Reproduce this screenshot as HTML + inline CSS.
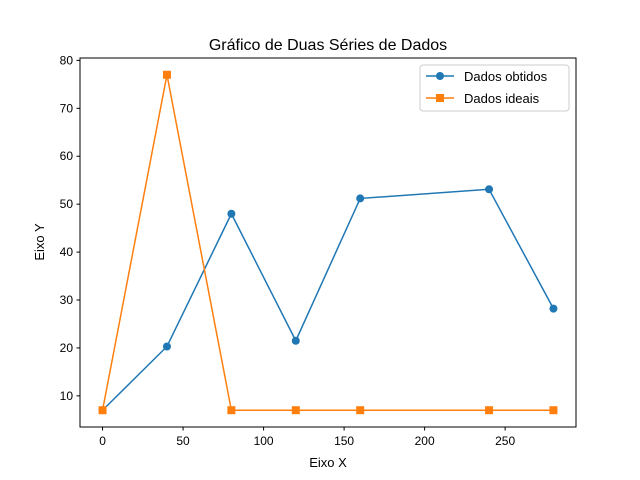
<!DOCTYPE html>
<html><head><meta charset="utf-8"><style>
body{margin:0;background:#fff;}
svg{display:block;font-family:"Liberation Sans","DejaVu Sans",sans-serif;}
</style></head><body>
<svg id="chart" width="640" height="480">
<rect width="640" height="480" fill="#fff"/>
<text x="328" y="50" text-anchor="middle" font-size="16">Gráfico de Duas Séries de Dados</text>
<g id="axes"></g>
<g id="series"></g>
<rect x="80" y="58" width="496" height="369" fill="none" stroke="#000" stroke-width="1"/>
<text x="328" y="467" text-anchor="middle" font-size="13">Eixo X</text>
<text transform="translate(44,242) rotate(-90)" text-anchor="middle" font-size="13">Eixo Y</text>
<g>
<rect x="420" y="65" width="149" height="46" rx="3" fill="#fff" stroke="#ccc"/>
<g>
<line x1="426" y1="76" x2="454" y2="76" stroke="#1f77b4" stroke-width="1.5"/>
<circle cx="440" cy="76" r="4" fill="#1f77b4"/>
<text x="464" y="81" font-size="13">Dados obtidos</text></g>
<g>
<line x1="426" y1="98" x2="454" y2="98" stroke="#ff7f0e" stroke-width="1.5"/>
<rect x="436" y="94" width="8" height="8" fill="#ff7f0e"/>
<text x="464" y="103" font-size="13">Dados ideais</text></g>
</g>
</svg>
<script>
const xValues=[0,40,80,120,160,240,280];
const obtidos=[7,20.3,48,21.5,51.2,53.1,28.2];
const ideais=[7,77,7,7,7,7,7];
const xTicks=[0,50,100,150,200,250];
const yTicks=[10,20,30,40,50,60,70,80];
const NS="http://www.w3.org/2000/svg";
const X=v=>80+(v+14)/308*496;
const Y=v=>427-(v-3.5)/77*369;
const axes=document.getElementById('axes'),series=document.getElementById('series');
function mk(t,a,p){const e=document.createElementNS(NS,t);for(const k in a)e.setAttribute(k,a[k]);p.appendChild(e);return e;}
xTicks.forEach(t=>{
 const l=mk('line',{x1:X(t),x2:X(t),y1:427,y2:430.5,stroke:'#000'},axes);
 
 
 const tx=mk('text',{x:X(t),y:445,'text-anchor':'middle','font-size':'12'},axes);tx.textContent=t;
 
 
});
yTicks.forEach(t=>{
 const l=mk('line',{x1:76.5,x2:80,y1:Y(t),y2:Y(t),stroke:'#000'},axes);
 
 
 const tx=mk('text',{x:73,y:Y(t)+4,'text-anchor':'end','font-size':'12'},axes);tx.textContent=t;
 
 
});
function draw(vals,color,square,name){
 const pl=mk('polyline',{points:xValues.map((x,i)=>X(x)+','+Y(vals[i])).join(' '),fill:'none',stroke:color,'stroke-width':1.5},series);
 
 
 xValues.forEach((x,i)=>{
  let m;
  if(square)m=mk('rect',{x:X(x)-4,y:Y(vals[i])-4,width:8,height:8,fill:color},series);
  else m=mk('circle',{cx:X(x),cy:Y(vals[i]),r:4,fill:color},series);
  
  
 });
}
draw(obtidos,'#1f77b4',false,'obtidos');
draw(ideais,'#ff7f0e',true,'ideais');
</script>
</body></html>
